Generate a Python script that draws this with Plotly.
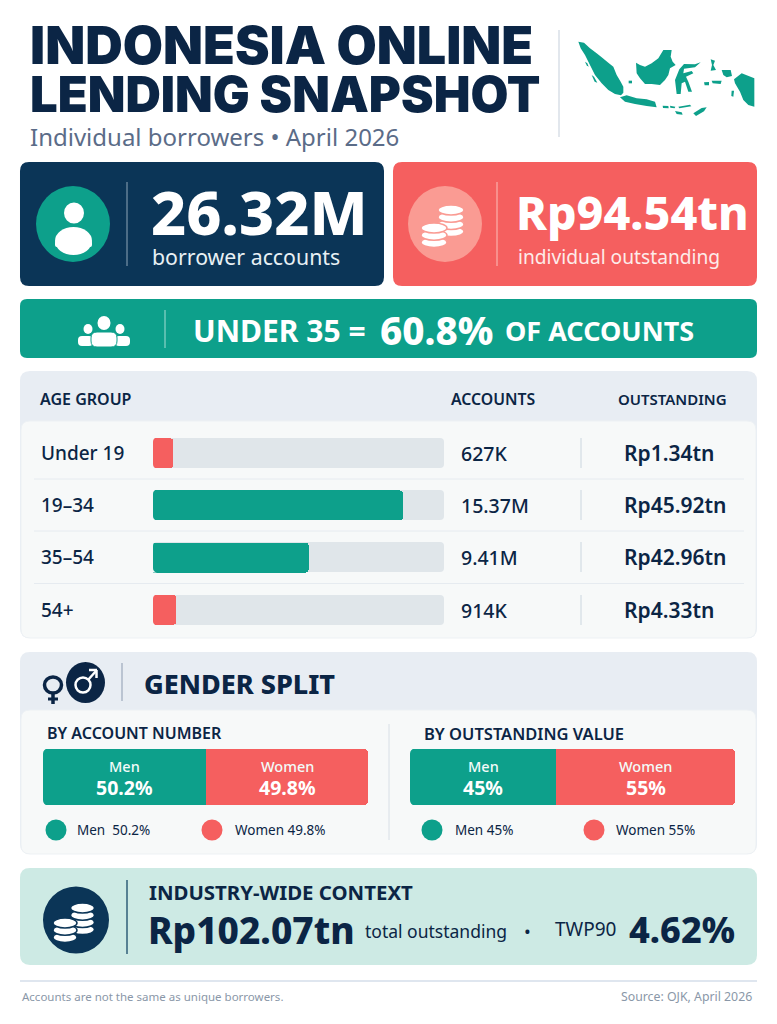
import plotly.graph_objects as go

W, H = 777, 1024

NAVY = "#0B2545"
DEEP = "#0B3557"
TEAL = "#0DA08B"
CORAL = "#F55F5F"
SLATE = "#5B6C88"
TRACK = "#E0E6EA"
HEAD = "#E8EDF3"
INNER = "#F7F9F9"
MINT = "#CDEAE4"
SANS = "Noto Sans"
HEAVY = "Inter"

# age table
age_groups = ["Under 19", "19–34", "35–54", "54+"]
age_bar_pct = [7, 86, 53.5, 8]
age_bar_colors = [CORAL, TEAL, TEAL, CORAL]
age_accounts = ["627K", "15.37M", "9.41M", "914K"]
age_outstanding = ["Rp1.34tn", "Rp45.92tn", "Rp42.96tn", "Rp4.33tn"]

# gender split
gender_names = ["Men", "Women"]
gender_colors = [TEAL, CORAL]
split_accounts = [50.2, 49.8]
split_outstanding = [45, 55]


def px(x):
    return x / W


def py(y):
    return 1 - y / H


def pt(x, y):
    return f"{px(x):.5f},{py(y):.5f}"


shapes = []
notes = []


def rrect(x0, y0, x1, y1, r, fill, line=None, layer="below"):
    d = (f"M{pt(x0 + r, y0)} L{pt(x1 - r, y0)} Q{pt(x1, y0)} {pt(x1, y0 + r)} "
         f"L{pt(x1, y1 - r)} Q{pt(x1, y1)} {pt(x1 - r, y1)} L{pt(x0 + r, y1)} "
         f"Q{pt(x0, y1)} {pt(x0, y1 - r)} L{pt(x0, y0 + r)} Q{pt(x0, y0)} {pt(x0 + r, y0)} Z")
    shapes.append(dict(type="path", path=d, xref="paper", yref="paper", fillcolor=fill, layer=layer,
                       line=dict(color=line or fill, width=1 if line else 0)))


def oval(cx, cy, rx, ry, fill, line=None, width=0):
    shapes.append(dict(type="circle", xref="paper", yref="paper",
                       x0=px(cx - rx), x1=px(cx + rx), y0=py(cy + ry), y1=py(cy - ry),
                       fillcolor=fill, line=dict(color=line or fill, width=width)))


def vline(x, y0, y1, color, width=1):
    shapes.append(dict(type="line", xref="paper", yref="paper", x0=px(x), x1=px(x), y0=py(y0), y1=py(y1),
                       line=dict(color=color, width=width)))


def hline(x0, x1, y, color, width=1):
    shapes.append(dict(type="line", xref="paper", yref="paper", x0=px(x0), x1=px(x1), y0=py(y), y1=py(y),
                       line=dict(color=color, width=width)))


def poly(points, fill):
    d = "M" + " L".join(pt(x, y) for x, y in points) + " Z"
    shapes.append(dict(type="path", path=d, xref="paper", yref="paper", fillcolor=fill, line=dict(width=0)))


def left_corners(x, y0, y1, r, bg):
    # plotly only rounds the far end of a bar, so the near end is masked
    for cy, sy in ((y0, 1), (y1, -1)):
        d = f"M{pt(x - 0.5, cy - 0.5 * sy)} L{pt(x + r, cy - 0.5 * sy)} Q{pt(x, cy)} {pt(x, cy + r * sy)} L{pt(x - 0.5, cy + r * sy)} Z"
        shapes.append(dict(type="path", path=d, xref="paper", yref="paper", fillcolor=bg, line=dict(width=0)))


def label(x, y, text, size, color=NAVY, weight=400, anchor="left", family=SANS, xref="paper"):
    notes.append(dict(x=px(x) if xref == "paper" else x, y=py(y), xref=xref, yref="paper", text=text,
                      showarrow=False, xanchor=anchor, yanchor="middle", borderpad=0, borderwidth=0,
                      font=dict(family=family, size=size, color=color, weight=weight)))


def coin_stack(cx, top, count, rx, fill, bg):
    for i in range(count - 1, -1, -1):
        oval(cx, top + i * 7.2, rx, 5, fill, bg, 1.5)


# header
label(30, 45, "INDONESIA ONLINE", 52, NAVY, 900, family=HEAVY)
label(30, 94, "LENDING SNAPSHOT", 49, NAVY, 900, family=HEAVY)
label(30, 136, "Individual borrowers • April 2026", 24, SLATE)
vline(559, 30, 137, "#C5CFDB")


def island(points):
    # outlines traced on a 3x crop of the map area
    poly([(560 + x / 3, 20 + y / 3) for x, y in points], TEAL)


island([(55, 65), (72, 68), (90, 85), (108, 98), (125, 112), (145, 128), (160, 140), (170, 165), (182, 185),
        (190, 200), (190, 218), (183, 226), (165, 222), (145, 210), (125, 190), (105, 165), (90, 135), (75, 105), (62, 85)])
island([(75, 125), (82, 130), (86, 140), (80, 136)])
island([(95, 165), (102, 170), (112, 188), (104, 185)])
island([(206, 182), (216, 182), (216, 190), (206, 190)])
island([(228, 128), (240, 135), (255, 140), (275, 130), (295, 115), (310, 90), (335, 90), (332, 110), (338, 125),
        (347, 135), (330, 145), (325, 165), (315, 180), (300, 195), (275, 192), (255, 192), (240, 175), (230, 160)])
island([(422, 127), (405, 133), (372, 132), (358, 148), (345, 180), (350, 222), (362, 222), (365, 190), (375, 185),
        (385, 215), (396, 215), (385, 185), (378, 170), (400, 160), (395, 153), (370, 160), (372, 146), (405, 142)])
island([(180, 232), (200, 226), (230, 235), (260, 238), (285, 245), (290, 262), (260, 258), (225, 252), (195, 245)])
island([(308, 257), (325, 258), (326, 265), (309, 264)])
island([(330, 257), (346, 260), (344, 265), (331, 263)])
island([(355, 260), (390, 254), (394, 259), (358, 265)])
island([(345, 273), (365, 277), (368, 284), (350, 282)])
island([(400, 280), (425, 264), (440, 262), (432, 274), (408, 288)])
island([(432, 187), (447, 186), (447, 196), (434, 196)])
island([(455, 182), (485, 182), (482, 192), (458, 190)])
island([(452, 118), (465, 122), (460, 135), (468, 150), (452, 152), (456, 135)])
island([(485, 150), (512, 150), (516, 168), (500, 172), (490, 165)])
island([(515, 212), (522, 212), (520, 230), (514, 228)])
island([(522, 178), (545, 160), (583, 175), (583, 260), (565, 255), (550, 240), (540, 215), (525, 190)])

# headline cards
rrect(20, 162, 384, 286, 9, DEEP)
oval(73, 224, 37, 38, TEAL)
oval(74, 213, 10, 10.5, "white")
oval(73.5, 241, 18.5, 14, "white")
rrect(55, 241, 92, 247, 2, "white", layer="above")
vline(127, 182, 266, "#8FA6B8")
label(151, 211, "26.32M", 61, "white", 800)
label(152, 256, "borrower accounts", 21.3, "#E8F0F4")

rrect(393, 162, 757, 286, 9, CORAL)
oval(445, 224, 37, 38, "#FA9B93")
coin_stack(451, 210, 4, 13, "white", "#FA9B93")
coin_stack(434, 228, 3, 13, "white", "#FA9B93")
vline(497, 182, 266, "#FBC0BB")
label(516, 212, "Rp94.54tn", 46.5, "white", 800)
label(518, 256, "individual outstanding", 19.2, "#FDECEA")

# under 35 banner
rrect(20, 299, 757, 358, 7, TEAL)
oval(88, 329, 4.5, 5, "white")
oval(120, 329, 4.5, 5, "white")
oval(104, 323, 6.5, 7, "white")
rrect(78, 336, 93, 346, 4, "white", layer="above")
rrect(115, 336, 130, 346, 4, "white", layer="above")
rrect(91, 332, 117, 347, 6, "white", line=TEAL, layer="above")
vline(165, 310, 348, "#A5DDD3")
label(193, 330, "UNDER 35 =", 30, "white", 700)
label(380, 330, "60.8%", 38.5, "white", 800)
label(505, 330, "OF ACCOUNTS", 27, "white", 700)

# age table
rrect(20, 371, 757, 638, 10, HEAD)
rrect(21, 421, 756, 638, 9, INNER, line="#EDF1F4")
label(40, 399, "AGE GROUP", 16, NAVY, 600)
label(451, 399, "ACCOUNTS", 15.8, NAVY, 600)
label(618, 399, "OUTSTANDING", 15, NAVY, 600)

row_y = [453, 505, 557, 610]
for i, y in enumerate(row_y):
    label(41, y, age_groups[i], 19, NAVY, 500)
    rrect(153, y - 15, 444, y + 15, 4, TRACK)
    left_corners(153, y - 15, y + 15, 4, INNER)
    label(461, y, age_accounts[i], 19.5, NAVY, 500)
    vline(581, y - 15, y + 15, "#CBD6DF")
    label(624, y, age_outstanding[i], 21, NAVY, 600)
    if i < 3:
        hline(34, 744, (y + row_y[i + 1]) / 2, "#E6EBF0")

# gender panel
rrect(20, 652, 757, 854, 10, HEAD)
rrect(21, 710, 756, 854, 9, INNER, line="#EDF1F4")
oval(53, 685, 8.5, 8, "rgba(0,0,0,0)", NAVY, 3.5)
vline(53, 693, 704, NAVY, 3.5)
hline(48, 58, 699, NAVY, 3)
oval(85.5, 682.5, 19.5, 20.5, NAVY)
oval(83, 685, 7.5, 7.5, "rgba(0,0,0,0)", "white", 2.5)
shapes.append(dict(type="line", xref="paper", yref="paper", x0=px(88), x1=px(96), y0=py(680), y1=py(671),
                   line=dict(color="white", width=2.5)))
hline(89, 97, 670, "white", 2.5)
vline(96.5, 670, 678, "white", 2.5)
vline(122, 663, 701, "#8D9BB0")
label(144, 683, "GENDER SPLIT", 27, NAVY, 800)

label(47, 733, "BY ACCOUNT NUMBER", 16, NAVY, 600)
label(424, 733, "BY OUTSTANDING VALUE", 16.5, NAVY, 600)
vline(389, 724, 840, "#D8DFE6")

legend_spots = [
    (56, 77, "Men  50.2%"), (212, 235, "Women 49.8%"),
    (432, 455, "Men 45%"), (594, 616, "Women 55%"),
]
for k, (dot, tx, text) in enumerate(legend_spots):
    oval(dot, 830, 10.5, 10.5, gender_colors[k % 2])
    label(tx, 830, text, 13.5, NAVY, 400)

# industry context
rrect(20, 868, 757, 965, 10, MINT)
oval(76, 920, 33, 33.5, DEEP)
coin_stack(82.5, 908, 4, 12, "white", DEEP)
coin_stack(65, 923, 3, 12, "white", DEEP)
vline(127, 880, 954, "#2F5E78", 1.5)
label(149, 892, "INDUSTRY-WIDE CONTEXT", 20.4, NAVY, 700)
label(148, 929, "Rp102.07tn", 37, NAVY, 800)
label(365, 931, "total outstanding", 17.5, NAVY, 400)
label(527, 931, "•", 18, NAVY, 400, anchor="center")
label(555, 929, "TWP90", 19, NAVY, 400)
label(629, 929, "4.62%", 36, NAVY, 800)

# footer
hline(20, 757, 981, "#D5DEEA", 1.5)
label(22, 996, "Accounts are not the same as unique borrowers.", 11.5, "#8A97A8")
label(752, 996, "Source: OJK, April 2026", 12.3, "#8A97A8", anchor="right")

fig = go.Figure()

fig.add_trace(go.Bar(y=age_groups, x=age_bar_pct, orientation="h", width=0.575,
                     marker=dict(color=age_bar_colors, line=dict(width=0)),
                     xaxis="x", yaxis="y", showlegend=False, hoverinfo="skip"))

panels = [("x2", "y2", split_accounts, 43), ("x3", "y3", split_outstanding, 410)]
for xa, ya, values, left in panels:
    left_corners(left, 749, 805, 5, INNER)
    start = 0
    for name, val, color in zip(gender_names, values, gender_colors):
        fig.add_trace(go.Bar(y=["share"], x=[val], orientation="h", width=1, name=name,
                             marker=dict(color=color, line=dict(width=0)),
                             xaxis=xa, yaxis=ya, showlegend=False, hoverinfo="skip"))
        mid = start + val / 2
        label(mid, 766, name, 14.5, "#F2FBF9", 500, anchor="center", xref=xa)
        label(mid, 787, f"{val:g}%", 19.5, "white", 700, anchor="center", xref=xa)
        start += val

hidden = dict(visible=False, fixedrange=True)
fig.update_layout(
    width=W, height=H, margin=dict(l=0, r=0, t=0, b=0), paper_bgcolor="white", plot_bgcolor="rgba(0,0,0,0)",
    barmode="stack", barcornerradius=4, showlegend=False, shapes=shapes, annotations=notes,
    xaxis=dict(hidden, domain=[px(153), px(444)], range=[0, 100], anchor="y"),
    yaxis=dict(hidden, domain=[py(636), py(427)], range=[3.5, -0.5], type="category",
               categoryorder="array", categoryarray=age_groups, anchor="x"),
    xaxis2=dict(hidden, domain=[px(43), px(368)], range=[0, 100], anchor="y2"),
    yaxis2=dict(hidden, domain=[py(805), py(749)], range=[-0.5, 0.5], type="category", anchor="x2"),
    xaxis3=dict(hidden, domain=[px(410), px(735)], range=[0, 100], anchor="y3"),
    yaxis3=dict(hidden, domain=[py(805), py(749)], range=[-0.5, 0.5], type="category", anchor="x3"),
)

fig.write_html("out.html", config=dict(displayModeBar=False),
               post_script="document.body.style.margin='0';document.body.style.overflow='hidden';")
